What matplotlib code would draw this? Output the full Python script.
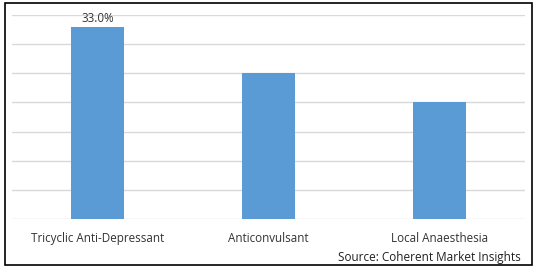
import matplotlib.pyplot as plt
from matplotlib.patches import Rectangle

categories = ['Tricyclic Anti-Depressant', 'Anticonvulsant', 'Local Anaesthesia']
values = [33.0, 25.0, 20.0]
label_text = ['33.0%', '', '']

W, H = 538, 272
plt.rcParams['font.family'] = ['Open Sans', 'DejaVu Sans']

fig = plt.figure(figsize=(W / 100, H / 100), dpi=100)
ax = fig.add_axes([12 / W, 1 - 219 / H, 513 / W, 204 / H])

bars = ax.bar(range(len(categories)), values, width=0.31, color='#5B9BD5', zorder=3)
for b, t in zip(bars, label_text):
    if t:
        ax.text(b.get_x() + b.get_width() / 2, b.get_height() + 0.35, t,
                ha='center', va='bottom', fontsize=8.3, color='#333333')

ax.set_xlim(-0.5, 2.5)
ax.set_ylim(0, 35)
ax.set_yticks(range(0, 36, 5))
ax.yaxis.grid(True, color='#D9D9D9', linewidth=1, zorder=0)
ax.tick_params(left=False, labelleft=False, bottom=False)
ax.set_xticks(range(len(categories)))
ax.set_xticklabels(categories, fontsize=8.4, color='#333333')
ax.tick_params(axis='x', pad=6)
for s in ax.spines.values():
    s.set_visible(False)

fig.text(521 / W, 1 - 257 / H, 'Source: Coherent Market Insights', ha='right', va='center',
         fontsize=8.5, color='#202020')

fig.patches.append(Rectangle((5 / W, 1 - 265 / H), 527 / W, 262 / H, transform=fig.transFigure,
                             fill=False, edgecolor='black', linewidth=1.2))

fig.savefig('out.png', dpi=100)
